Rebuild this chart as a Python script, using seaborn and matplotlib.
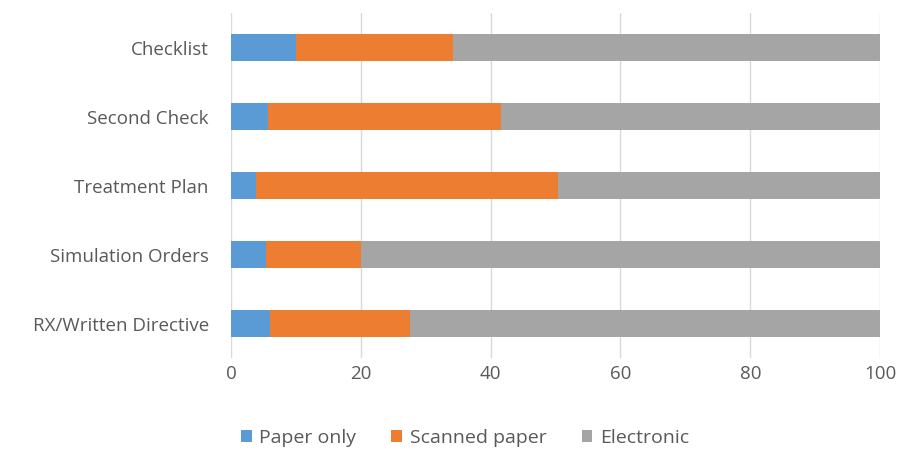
import matplotlib
matplotlib.use("Agg")
import matplotlib.pyplot as plt
import seaborn as sns
import pandas as pd
import numpy as np
from matplotlib.patches import Patch

categories = ["Checklist", "Second Check", "Treatment Plan", "Simulation Orders", "RX/Written Directive"]
paper_only = [10.0, 5.7, 3.9, 5.4, 6.0]
scanned_paper = [24.2, 35.9, 46.5, 14.7, 21.5]
electronic = [65.8, 58.4, 49.6, 79.9, 72.5]
ticks = [0, 20, 40, 60, 80, 100]

colors = {"Paper only": "#5b9bd5", "Scanned paper": "#ed7d31", "Electronic": "#a5a5a5"}

sns.set_theme(style="white")
plt.rcParams['font.family'] = ['Open Sans', 'DejaVu Sans']

df = pd.DataFrame({"cat": categories, "p": paper_only, "s": scanned_paper, "e": electronic})
df["c1"] = df["p"]
df["c2"] = df["p"] + df["s"]
df["c3"] = df["c2"] + df["e"]

fig = plt.figure(figsize=(9.13, 4.51), dpi=100)
ax = fig.add_axes([0.253, 0.206, 0.711, 0.765])

for col, name in [("c3", "Electronic"), ("c2", "Scanned paper"), ("c1", "Paper only")]:
    sns.barplot(data=df, x=col, y="cat", order=categories, color=colors[name],
                width=0.4, orient="h", ax=ax, saturation=1, linewidth=0, zorder=3)

ax.set_xlim(0, 100)
ax.set_xticks(ticks)
ax.set_xticklabels([str(t) for t in ticks])
ax.set_ylim(len(categories) - 0.5, -0.5)
ax.set_xlabel("")
ax.set_ylabel("")
ax.grid(axis="x", color="#d9d9d9", linewidth=1, zorder=0)
for s in ax.spines.values():
    s.set_visible(False)
ax.tick_params(axis="both", length=0, labelsize=13.5, colors="#595959")
ax.tick_params(axis="x", pad=5)
ax.tick_params(axis="y", pad=16)

handles = [Patch(facecolor=colors[n], edgecolor="none") for n in ["Paper only", "Scanned paper", "Electronic"]]
fig.legend(handles, ["Paper only", "Scanned paper", "Electronic"], loc="center",
           bbox_to_anchor=(465 / 913, 1 - 438 / 451), ncol=3, frameon=False,
           fontsize=14, labelcolor="#595959", handlelength=0.55, handleheight=0.55,
           handletextpad=0.4, columnspacing=1.8)

fig.savefig("out.png", dpi=100)
